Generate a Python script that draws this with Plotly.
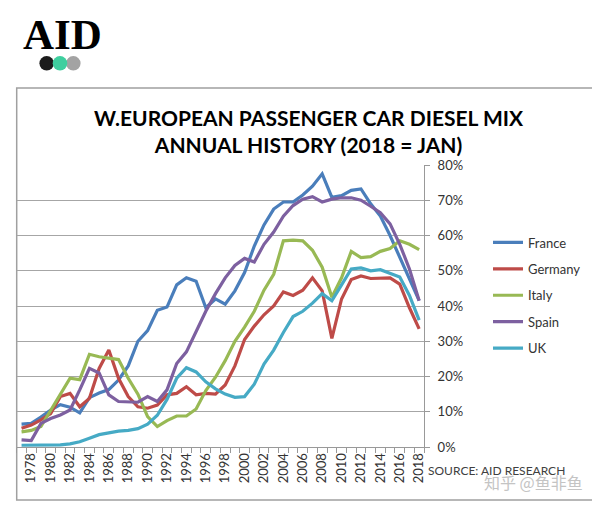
import plotly.graph_objects as go

years = list(range(1977, 2019))
france = [6.5, 6.7, 8.5, 10.5, 12.0, 11.3, 9.7, 14.0, 15.3, 16.3,
          19.0, 23.0, 30.0, 33.0, 38.8, 39.7, 46.0, 48.0, 47.0, 39.5,
          42.0, 40.5, 44.3, 49.5, 57.0, 63.0, 67.5, 69.5, 69.5, 71.5,
          74.0, 77.5, 70.8, 71.3, 72.8, 73.2, 69.0, 65.5, 60.0, 54.0,
          47.5, 41.5]
germany = [5.3, 6.2, 7.7, 9.5, 14.3, 15.2, 11.4, 13.8, 22.3, 27.5,
           19.5, 14.3, 11.4, 11.0, 11.9, 14.8, 15.2, 17.1, 14.8, 15.2,
           15.0, 17.6, 23.0, 30.5, 34.3, 37.5, 40.0, 44.0, 43.0, 44.5,
           48.0, 44.3, 30.8, 42.0, 47.5, 48.5, 47.8, 48.0, 48.0, 46.2,
           39.5, 33.5]
italy = [4.3, 4.7, 5.8, 10.5, 15.2, 19.5, 19.1, 26.3, 25.6, 25.3,
         24.8, 19.5, 15.0, 8.6, 5.8, 7.5, 8.8, 8.8, 10.8, 16.0,
         19.8, 24.5, 30.0, 34.0, 38.5, 44.5, 49.0, 58.5, 58.7, 58.5,
         55.8, 51.0, 42.5, 48.0, 55.5, 53.7, 54.0, 55.5, 56.3, 58.5,
         57.5, 56.0]
spain = [2.0, 1.8, 6.7, 8.1, 9.1, 10.5, 16.2, 22.3, 21.0, 14.8,
         12.9, 12.9, 12.7, 14.3, 12.9, 16.2, 23.7, 27.0, 33.0, 38.5,
         43.5, 48.0, 51.5, 53.5, 52.5, 57.5, 61.0, 65.5, 68.5, 70.3,
         71.0, 69.5, 70.3, 70.7, 70.7, 70.0, 68.3, 66.5, 63.3, 57.5,
         50.5, 41.5]
uk = [0.5, 0.5, 0.5, 0.6, 0.6, 0.9, 1.5, 2.5, 3.5, 4.0,
      4.5, 4.7, 5.2, 6.5, 9.0, 13.5, 19.5, 22.5, 21.3, 18.5,
      16.5, 15.0, 14.1, 14.3, 17.8, 23.5, 27.5, 32.5, 37.0, 38.5,
      40.8, 43.5, 41.5, 46.0, 50.5, 50.8, 50.0, 50.3, 49.3, 48.2,
      43.0, 36.0]

series_names = ["France", "Germany", "Italy", "Spain", "UK"]
series_values = [france, germany, italy, spain, uk]
series_colors = ["#4a7ebb", "#be4b48", "#98b954", "#7d60a0", "#46aac5"]

tick_years = list(range(1978, 2019, 2))
y_ticks = list(range(0, 81, 10))

W, H = 600, 505
OFF = 8  # page body margin offset
def px(x):
    return (x - OFF) / W
def py(y):
    return 1 - (y - OFF) / H

FONT = "Lato"

fig = go.Figure()
for name, vals, col in zip(series_names, series_values, series_colors):
    fig.add_trace(go.Scatter(x=years, y=vals, mode="lines", name=name,
                             legendgroup=name,
                             line=dict(color=col, width=3.2)))

fig.update_layout(
    width=W, height=H,
    margin=dict(l=0, r=0, t=0, b=0),
    paper_bgcolor="white", plot_bgcolor="white",
    font=dict(family=FONT, color="#333333"),
    showlegend=True,
    legend=dict(x=px(488), y=py(227.5), xanchor="left", yanchor="top",
                font=dict(size=13, color="#333333", family=FONT),
                traceorder="grouped", tracegroupgap=6.5,
                bgcolor="rgba(0,0,0,0)"),
    xaxis=dict(domain=[px(16.7), px(424)], range=[1976.5, 2018.5],
               tickmode="array", tickvals=tick_years,
               ticktext=[str(t) for t in tick_years],
               tickangle=-90, tickfont=dict(size=13, color="#333333"),
               ticks="", showgrid=False, zeroline=False,
               showline=True, linecolor="#999999", linewidth=1,
               automargin=False,
               minor=dict(tickmode="linear", tick0=1976.5, dtick=1,
                          ticks="outside", ticklen=5, tickcolor="#999999",
                          showgrid=False)),
    yaxis=dict(domain=[py(447), py(165)], range=[0, 80],
               side="right", tickmode="array", tickvals=y_ticks,
               ticktext=[f"{v}%" for v in y_ticks],
               tickfont=dict(size=13, color="#333333"),
               ticks="outside", ticklen=5, tickcolor="#999999",
               ticklabelstandoff=5,
               showgrid=True, gridcolor="#a6a6a6", gridwidth=1,
               zeroline=False, showline=True, linecolor="#999999",
               linewidth=1, automargin=False),
)

# chart border
fig.add_shape(type="rect", xref="paper", yref="paper",
              x0=px(16.7), x1=px(595), y0=py(500), y1=py(88),
              line=dict(color="#a0a0a0", width=1.5), layer="below")

# logo circles
for cx, col in [(46.7, "#1c1c1c"), (73.3, "#a3a3a3"), (60, "#3fcf9f")]:
    r = 7.3
    fig.add_shape(type="circle", xref="paper", yref="paper",
                  x0=px(cx - r), x1=px(cx + r), y0=py(63.3 + r), y1=py(63.3 - r),
                  fillcolor=col, line=dict(width=0))

fig.add_annotation(text="<b>AID</b>", xref="paper", yref="paper",
                   x=px(62), y=py(34.5), xanchor="center", yanchor="middle",
                   showarrow=False,
                   font=dict(family="Liberation Serif", size=43, color="#000000"))

# title
fig.add_annotation(text="<b>W.EUROPEAN PASSENGER CAR DIESEL MIX<br>ANNUAL HISTORY (2018 = JAN)</b>",
                   xref="paper", yref="paper", x=px(309), y=py(131),
                   xanchor="center", yanchor="middle", showarrow=False,
                   font=dict(family=FONT, size=21, color="#000000"))

fig.add_annotation(text="SOURCE: AID RESEARCH", xref="paper", yref="paper",
                   x=px(426), y=py(470), xanchor="left", yanchor="middle",
                   showarrow=False, font=dict(family=FONT, size=12, color="#404040"))

fig.add_annotation(text="知乎 @鱼非鱼", xref="paper", yref="paper",
                   x=px(585), y=py(482), xanchor="right", yanchor="middle",
                   showarrow=False,
                   font=dict(family="Noto Sans CJK SC", size=16, color="#c4c4c4"))

fig.write_html("out.html")
